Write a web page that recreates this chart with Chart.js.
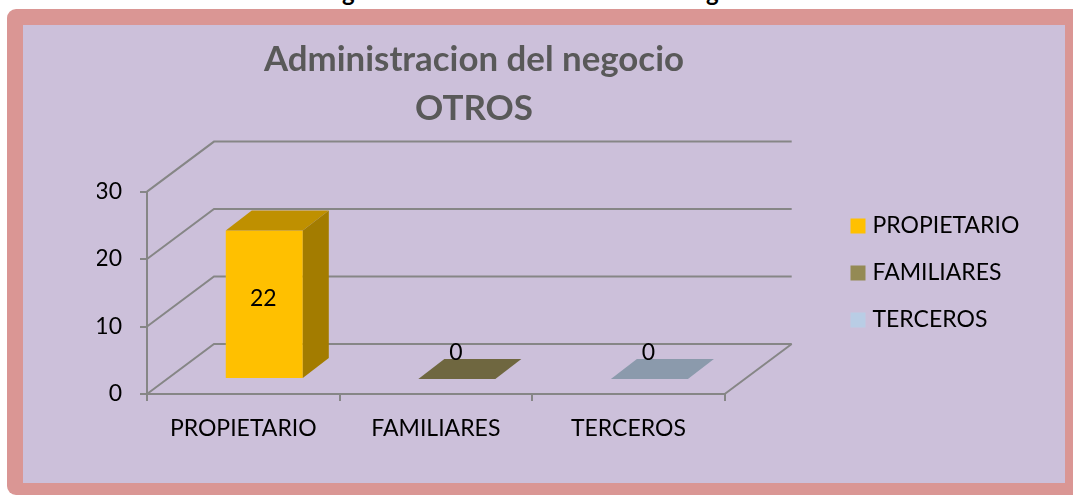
<!DOCTYPE html>
<html lang="es">
<head>
<meta charset="UTF-8">
<title>Administracion del negocio</title>
<script src="https://cdn.jsdelivr.net/npm/chart.js"></script>
<style>
    html, body { margin: 0; padding: 0; background: #fff; overflow: hidden; }
    #page { position: relative; width: 1073px; height: 495px; overflow: hidden; }
    #frame {
        position: absolute; left: 7px; top: 9px; width: 1090px; height: 486px;
        box-sizing: border-box; background: #da9694; border-radius: 9px;
    }
    #panel { position: absolute; left: 23px; top: 25px; width: 1042px; height: 458px; background: #ccc0da; }
    canvas { position: absolute; left: 0; top: 0; }
    /* caption above the frame is cut off by the crop, only the descenders show */
    .cut { position: absolute; top: -20px; font: bold 24px/24px Lato; color: #000; }
</style>
</head>
<body>
<div id="page">
    <span class="cut" style="left:342px">g</span>
    <span class="cut" style="left:706px">g</span>
    <div id="frame"></div>
    <div id="panel"></div>
    <canvas id="chart" width="1073" height="495"></canvas>
</div>
<script>
const categories = ['PROPIETARIO', 'FAMILIARES', 'TERCEROS'];
const values = [22, 0, 0];
const yTicks = [0, 10, 20, 30];
const titleLines = ['Administracion del negocio', 'OTROS'];

const legendColors = ['#ffc000', '#948a54', '#b9cde5'];
const frontColors = ['#ffc000', '#948a54', '#b9cde5'];
const topColors = ['#bf9000', '#6f6740', '#8b9aac'];
const sideColors = ['#a37c00', '#5e5736', '#76828f'];

const FONT = 'Lato';
const LINE = '#868686';
// depth of the 3d box and where the bars sit inside it
const wallDx = 67, wallDy = -50;
const barDx = 21, barDy = -15;
const depthDx = 26, depthDy = -20;

function line(ctx, pts) {
    ctx.beginPath();
    pts.forEach((p, i) => i ? ctx.lineTo(p[0], p[1]) : ctx.moveTo(p[0], p[1]));
    ctx.stroke();
}

function poly(ctx, pts, color) {
    ctx.beginPath();
    pts.forEach((p, i) => i ? ctx.lineTo(p[0], p[1]) : ctx.moveTo(p[0], p[1]));
    ctx.closePath();
    ctx.fillStyle = color;
    ctx.fill();
}

const box3d = {
    id: 'box3d',
    afterLayout(chart) {
        // title is centred on the box, legend sits away from it
        chart.titleBlock.left = 264;
        chart.titleBlock.right = 684;
        const lg = chart.legend;
        const w = lg.right - lg.left;
        lg.left = 831;
        lg.right = 831 + w;
        lg.top = 184;
        lg.bottom = 362;
    },
    beforeDatasetsDraw(chart) {
        const { ctx, chartArea: a, scales: { y } } = chart;
        ctx.save();
        ctx.strokeStyle = LINE;
        ctx.lineWidth = 2;
        yTicks.forEach(v => {
            const py = y.getPixelForValue(v);
            line(ctx, [[a.left, py], [a.left + wallDx, py + wallDy], [a.right + wallDx, py + wallDy]]);
        });
        line(ctx, [[a.right, a.bottom], [a.right + wallDx, a.bottom + wallDy]]);
        ctx.restore();
        ctx.save();
        ctx.translate(barDx, barDy);
    },
    afterDatasetsDraw(chart) {
        const { ctx } = chart;
        const bars = chart.getDatasetMeta(0).data;
        bars.forEach((b, i) => {
            const l = b.x - b.width / 2, r = b.x + b.width / 2;
            poly(ctx, [[l, b.y], [r, b.y], [r + depthDx, b.y + depthDy], [l + depthDx, b.y + depthDy]], topColors[i]);
            if (values[i] > 0) {
                poly(ctx, [[r, b.y], [r, b.base], [r + depthDx, b.base + depthDy], [r + depthDx, b.y + depthDy]], sideColors[i]);
            }
            ctx.fillStyle = '#000';
            ctx.font = '23px ' + FONT;
            ctx.textAlign = 'center';
            ctx.textBaseline = 'middle';
            const ly = values[i] > 0 ? (b.y + b.base) / 2 - 6 : b.y - 26;
            ctx.fillText(values[i], b.x - 1, ly);
        });
        ctx.restore();
    }
};

new Chart(document.getElementById('chart'), {
    type: 'bar',
    data: {
        labels: categories,
        datasets: [{
            data: values,
            backgroundColor: frontColors,
            barPercentage: 0.4,
            categoryPercentage: 1
        }]
    },
    plugins: [box3d],
    options: {
        responsive: false,
        animation: false,
        layout: { padding: { left: 97, right: 150, top: 36, bottom: 41 } },
        scales: {
            x: {
                afterFit(s) { s.height = 60; },
                border: { color: LINE, width: 2 },
                grid: { drawOnChartArea: false, color: LINE, lineWidth: 2, tickLength: 7 },
                ticks: { color: '#000', font: { family: FONT, size: 23 }, padding: 14 }
            },
            y: {
                min: 0,
                max: 30,
                afterFit(s) { s.width = 50; },
                afterBuildTicks(s) { s.ticks = yTicks.map(v => ({ value: v })); },
                border: { color: LINE, width: 2 },
                grid: { drawOnChartArea: false, color: LINE, lineWidth: 2, tickLength: 7 },
                ticks: { color: '#000', font: { family: FONT, size: 23 }, padding: 18 }
            }
        },
        plugins: {
            tooltip: { enabled: false },
            title: {
                display: true,
                text: titleLines,
                color: '#595959',
                font: { family: FONT, size: 35, weight: 'bold', lineHeight: 1.38 },
                padding: { top: 0, bottom: 59 }
            },
            legend: {
                position: 'right',
                labels: {
                    color: '#000',
                    font: { family: FONT, size: 23 },
                    usePointStyle: true,
                    boxWidth: 6,
                    boxHeight: 15,
                    padding: 24,
                    generateLabels() {
                        return categories.map((c, i) => ({
                            text: c, fillStyle: legendColors[i], strokeStyle: legendColors[i], lineWidth: 0, pointStyle: 'rect', index: i
                        }));
                    }
                }
            }
        }
    }
});
</script>
</body>
</html>
